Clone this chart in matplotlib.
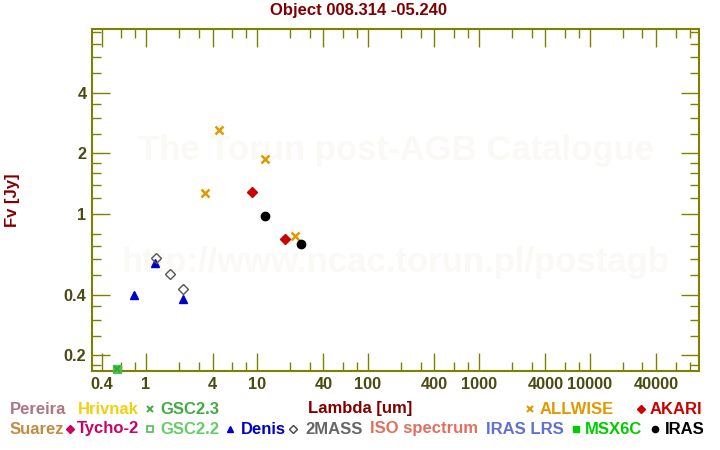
import numpy as np
import matplotlib.pyplot as plt
from matplotlib.lines import Line2D
from matplotlib.ticker import FixedLocator, NullFormatter

plt.rcParams['font.family'] = ['Liberation Sans', 'DejaVu Sans']
plt.rcParams['font.weight'] = 'bold'

# photometrie (Lambda in um, Fv in Jy)
allwise_lam = [3.4, 4.6, 12.0, 22.0]
allwise_f = [1.28, 2.6, 1.88, 0.78]
akari_lam = [9.0, 18.0]
akari_f = [1.29, 0.755]
iras_lam = [12.0, 25.0]
iras_f = [0.975, 0.713]
mass2_lam = [1.25, 1.65, 2.17]
mass2_f = [0.61, 0.505, 0.427]
denis_lam = [0.79, 1.22, 2.16]
denis_f = [0.40, 0.572, 0.38]
gsc22_lam = [0.555]
gsc22_f = [0.172]
gsc23_lam = [0.555]
gsc23_f = [0.172]

xmajor = [0.4, 1, 4, 10, 40, 100, 400, 1000, 4000, 10000, 40000]
xminor = [0.6, 0.8, 2, 3, 6, 8, 20, 30, 60, 80, 200, 300, 600, 800,
          2000, 3000, 6000, 8000, 20000, 30000, 60000, 80000]
ymajor = [0.2, 0.4, 1, 2, 4]
yminor = [0.18, 0.25, 0.3, 0.35, 0.5, 0.6, 0.7, 0.8, 1.2, 1.4, 1.6, 1.8,
          2.5, 3, 3.5, 5, 6, 7, 8]

olive = '#808000'
darkred = '#800000'
ticklab = '#4a4a12'

fig = plt.figure(figsize=(7.2, 4.5), dpi=100)
ax = fig.add_axes([92/720, 1-371/450, 607/720, 342/450])
ax.set_xscale('log')
ax.set_yscale('log')
ax.set_xlim(0.328, 97000)
ax.set_ylim(0.1676, 8.26)

# Wasserzeichen
ax.text(0.5, 0.645, 'The Torun post-AGB Catalogue', transform=ax.transAxes,
        ha='center', va='center', fontsize=25, color='#fbf9f6', zorder=0)
ax.text(0.5, 0.318, 'http://www.ncac.torun.pl/postagb', transform=ax.transAxes,
        ha='center', va='center', fontsize=25, color='#fbf9f6', zorder=0)

ax.plot(gsc22_lam, gsc22_f, 's', color='#55bb55', ms=6, clip_on=False, zorder=3)
ax.plot(gsc23_lam, gsc23_f, 'x', color='#33aa33', ms=5, mew=1.5, clip_on=False, zorder=4)
ax.plot(denis_lam, denis_f, '^', color='#0000cc', ms=6, ls='none')
ax.plot(mass2_lam, mass2_f, 'D', mfc='none', mec='#555555', ms=5, mew=1, ls='none')
ax.plot(allwise_lam, allwise_f, 'x', color='#e09900', ms=5.5, mew=1.8, ls='none')
ax.plot(akari_lam, akari_f, 'D', color='#cc0000', ms=5.5, ls='none')
ax.plot(iras_lam, iras_f, 'o', color='black', ms=6, ls='none')

ax.xaxis.set_major_locator(FixedLocator(xmajor))
ax.xaxis.set_minor_locator(FixedLocator(xminor))
ax.yaxis.set_major_locator(FixedLocator(ymajor))
ax.yaxis.set_minor_locator(FixedLocator(yminor))
ax.xaxis.set_minor_formatter(NullFormatter())
ax.yaxis.set_minor_formatter(NullFormatter())
ax.set_xticklabels(['0.4', '1', '4', '10', '40', '100', '400', '1000', '4000', '10000', '40000'])
ax.set_yticklabels(['0.2', '0.4', '1', '2', '4'])

ax.tick_params(which='both', direction='in', top=True, right=True, color=olive, width=1,
               labelcolor=ticklab, labelsize=11.7)
ax.tick_params(which='major', length=13, pad=4)
ax.tick_params(which='minor', length=6.5)
for s in ax.spines.values():
    s.set_color(olive)
    s.set_linewidth(1.5)

fig.text(358/720, 1-11/450, 'Object 008.314 -05.240', ha='center', va='center',
         color=darkred, fontsize=12)
fig.text(360/720, 1-408/450, 'Lambda [um]', ha='center', va='center',
         color=darkred, fontsize=12)
fig.text(12/720, 1-200/450, 'Fv [Jy]', ha='center', va='center', rotation=90,
         color=darkred, fontsize=12)

# Legende unten
def px(x, y):
    return x/720, 1-y/450

legend = [
    (10, 409, 'Pereira', '#b07585', None, None),
    (78, 409, 'Hrivnak', '#f0d010', None, None),
    (160, 409, 'GSC2.3', '#44aa44', 'x', (150, {'mec': '#44aa44', 'ms': 4.5, 'mew': 1.4})),
    (540, 409, 'ALLWISE', '#e09900', 'x', (530, {'mec': '#e09900', 'ms': 5, 'mew': 1.5})),
    (650, 409, 'AKARI', '#cc0000', 'D', (641, {'mfc': '#cc0000', 'mec': '#cc0000', 'ms': 4.5})),
    (10, 429, 'Suarez', '#c08c40', None, None),
    (77, 429, 'Tycho-2', '#cc0066', 'D', (70, {'mfc': '#cc0066', 'mec': '#cc0066', 'ms': 4.5})),
    (160, 429, 'GSC2.2', '#66cc66', 's', (150, {'mfc': 'none', 'mec': '#55bb55', 'ms': 4, 'mew': 1.2})),
    (241, 429, 'Denis', '#0000cc', '^', (230, {'mfc': '#0000cc', 'mec': '#0000cc', 'ms': 5})),
    (305, 429, '2MASS', '#666666', 'D', (293, {'mfc': 'none', 'mec': '#444444', 'ms': 4, 'mew': 1})),
    (370, 429, 'ISO spectrum', '#e07060', None, None),
    (486, 429, 'IRAS LRS', '#6070d0', None, None),
    (585, 429, 'MSX6C', '#00cc00', 's', (576, {'mfc': '#00cc00', 'mec': '#00cc00', 'ms': 4.5})),
    (665, 429, 'IRAS', '#000000', 'o', (655, {'mfc': 'black', 'mec': 'black', 'ms': 4.5})),
]
for x, y, label, col, mk, mkinfo in legend:
    fig.text(*px(x, y), label, ha='left', va='center', color=col, fontsize=12)
    if mk is not None:
        mx, kw = mkinfo
        fig.add_artist(Line2D([mx/720], [1-y/450], marker=mk, ls='none',
                              transform=fig.transFigure, **kw))

fig.savefig('out.png', dpi=100)
